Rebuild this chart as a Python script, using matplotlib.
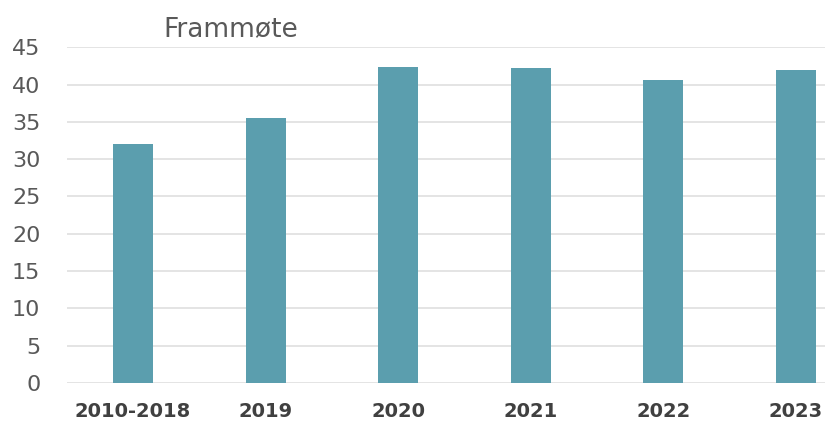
import matplotlib.pyplot as plt

categories = ['2010-2018', '2019', '2020', '2021', '2022', '2023']
values = [32.0, 35.5, 42.4, 42.2, 40.6, 41.9]
yticks = [0, 5, 10, 15, 20, 25, 30, 35, 40, 45]

fig = plt.figure(figsize=(8.25, 4.24), dpi=100)
# axes runs past the right edge, like the cropped original
ax = fig.add_axes([0.081, 0.0967, 0.964, 0.792])

ax.bar(range(len(categories)), values, width=0.3, color='#5b9eae', zorder=2)

ax.set_xlim(-0.5, 5.5)
ax.set_ylim(0, 45)
ax.set_yticks(yticks)
ax.set_xticks(range(len(categories)))
ax.set_xticklabels(categories, fontsize=14, fontweight='bold', color='#404040')
ax.tick_params(axis='y', labelsize=16, labelcolor='#595959', length=0, pad=19)
ax.tick_params(axis='x', length=0, pad=14)

ax.grid(axis='y', color='#dcdcdc', linewidth=1.1, zorder=0)
for s in ax.spines.values():
    s.set_visible(False)

fig.text(0.198, 0.932, 'Frammøte', fontsize=19, color='#595959', va='center', ha='left')

plt.savefig('out.png', dpi=100)
